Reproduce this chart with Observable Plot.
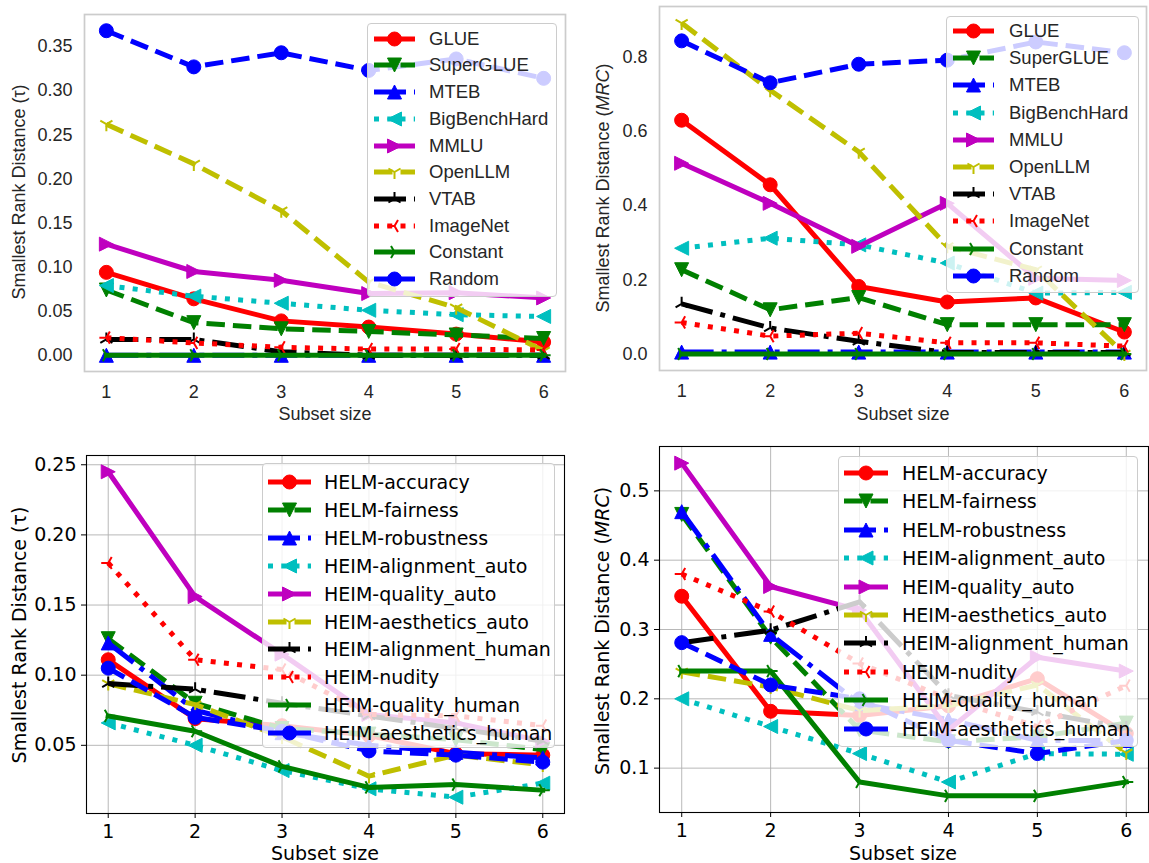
<!DOCTYPE html>
<html><head><meta charset="utf-8">
<script src="https://cdn.jsdelivr.net/npm/d3@7"></script>
<script src="https://cdn.jsdelivr.net/npm/@observablehq/plot@0.6"></script>
<style>
body{margin:0;background:#fff;}
#root{position:relative;width:1149px;height:863px;overflow:hidden;background:#fff;}
.panel{position:absolute;}
.panel svg{overflow:visible;}
.lab{position:absolute;white-space:nowrap;line-height:1;}
.xlab{transform:translate(-50%,-50%);}
.ylab{transform:translate(-50%,-50%) rotate(-90deg);}
.legend{position:absolute;background:rgba(255,255,255,0.8);box-sizing:border-box;border:1px solid #cccccc;border-radius:4px;}
.legend .txt{position:absolute;white-space:nowrap;line-height:1;transform:translateY(-50%);}
.legend svg{position:absolute;overflow:visible;}
</style></head><body><div id="root"></div>
<script>
// ---------- data ----------
const subsetSizes = [1, 2, 3, 4, 5, 6];

const topSeries = ["GLUE", "SuperGLUE", "MTEB", "BigBenchHard", "MMLU", "OpenLLM", "VTAB", "ImageNet", "Constant", "Random"];
const tauTop = [
  [0.094, 0.064, 0.039, 0.032, 0.024, 0.015],
  [0.074, 0.037, 0.030, 0.027, 0.023, 0.019],
  [0, 0, 0, 0, 0, 0],
  [0.079, 0.067, 0.059, 0.051, 0.046, 0.044],
  [0.126, 0.095, 0.085, 0.070, 0.071, 0.065],
  [0.262, 0.217, 0.164, 0.083, 0.054, 0.005],
  [0.018, 0.018, 0.004, 0, 0, 0],
  [0.020, 0.014, 0.009, 0.007, 0.007, 0.006],
  [0, 0, 0, 0, 0, 0],
  [0.368, 0.327, 0.343, 0.323, 0.336, 0.314]
];
const mrcTop = [
  [0.630, 0.456, 0.182, 0.140, 0.151, 0.059],
  [0.227, 0.119, 0.152, 0.079, 0.079, 0.079],
  [0.005, 0.005, 0.005, 0.005, 0.005, 0.005],
  [0.285, 0.312, 0.294, 0.245, 0.164, 0.166],
  [0.514, 0.406, 0.290, 0.406, 0.204, 0.198],
  [0.892, 0.711, 0.545, 0.290, 0.227, 0.000],
  [0.135, 0.070, 0.034, 0.004, 0.004, 0.004],
  [0.085, 0.048, 0.056, 0.030, 0.030, 0.021],
  [0, 0, 0, 0, 0, 0],
  [0.844, 0.731, 0.781, 0.792, 0.841, 0.812]
];

const bottomSeries = ["HELM-accuracy", "HELM-fairness", "HELM-robustness", "HEIM-alignment_auto", "HEIM-quality_auto",
  "HEIM-aesthetics_auto", "HEIM-alignment_human", "HEIM-nudity", "HEIM-quality_human", "HEIM-aesthetics_human"];
const tauBottom = [
  [0.111, 0.069, 0.064, 0.057, 0.044, 0.043],
  [0.126, 0.080, 0.062, 0.058, 0.054, 0.047],
  [0.123, 0.075, 0.059, 0.050, 0.045, 0.041],
  [0.066, 0.050, 0.032, 0.019, 0.013, 0.023],
  [0.245, 0.156, 0.115, 0.072, 0.066, 0.053],
  [0.094, 0.079, 0.056, 0.028, 0.043, 0.036],
  [0.094, 0.090, 0.080, 0.071, 0.062, 0.053],
  [0.180, 0.111, 0.104, 0.072, 0.071, 0.064],
  [0.071, 0.060, 0.035, 0.020, 0.022, 0.018],
  [0.105, 0.070, 0.060, 0.046, 0.043, 0.038]
];
const mrcBottom = [
  [0.348, 0.182, 0.176, 0.190, 0.229, 0.150],
  [0.466, 0.289, 0.155, 0.138, 0.145, 0.165],
  [0.470, 0.293, 0.193, 0.170, 0.140, 0.140],
  [0.200, 0.160, 0.121, 0.080, 0.121, 0.120],
  [0.540, 0.362, 0.328, 0.155, 0.260, 0.240],
  [0.239, 0.217, 0.183, 0.190, 0.220, 0.122],
  [0.281, 0.299, 0.340, 0.205, 0.181, 0.158],
  [0.380, 0.326, 0.251, 0.200, 0.160, 0.219],
  [0.240, 0.240, 0.080, 0.060, 0.060, 0.080],
  [0.281, 0.220, 0.200, 0.140, 0.121, 0.140]
];

const tauTopTicks = [0, 0.05, 0.10, 0.15, 0.20, 0.25, 0.30, 0.35];
const mrcTopTicks = [0, 0.2, 0.4, 0.6, 0.8];
const tauBottomTicks = [0.05, 0.10, 0.15, 0.20, 0.25];
const mrcBottomTicks = [0.1, 0.2, 0.3, 0.4, 0.5];

// ---------- styles ----------
const seriesColors = ["#ff0000", "#008000", "#0000ff", "#00bfbf", "#bf00bf", "#bfbf00", "#000000", "#ff0000", "#008000", "#0000ff"];
const dashKinds = ["solid", "dashed", "dashdot", "dotted", "solid", "dashed", "dashdot", "dotted", "solid", "dashed"];
const markerKinds = ["o", "v", "^", "<", ">", "1", "2", "3", "4", "o"];

const mk = fn => ({draw(ctx, size) { const r = Math.sqrt(size / Math.PI); fn(ctx, r); }});
const symbols = {
  "o": mk((c, r) => { c.moveTo(r, 0); c.arc(0, 0, r, 0, 2 * Math.PI); c.closePath(); }),
  "^": mk((c, r) => { c.moveTo(0, -r); c.lineTo(-r, r); c.lineTo(r, r); c.closePath(); }),
  "v": mk((c, r) => { c.moveTo(0, r); c.lineTo(-r, -r); c.lineTo(r, -r); c.closePath(); }),
  "<": mk((c, r) => { c.moveTo(-r, 0); c.lineTo(r, -r); c.lineTo(r, r); c.closePath(); }),
  ">": mk((c, r) => { c.moveTo(r, 0); c.lineTo(-r, -r); c.lineTo(-r, r); c.closePath(); }),
  "1": mk((c, r) => { c.moveTo(0, 0); c.lineTo(0, r); c.moveTo(0, 0); c.lineTo(-0.866 * r, -0.5 * r); c.moveTo(0, 0); c.lineTo(0.866 * r, -0.5 * r); }),
  "2": mk((c, r) => { c.moveTo(0, 0); c.lineTo(0, -r); c.moveTo(0, 0); c.lineTo(-0.866 * r, 0.5 * r); c.moveTo(0, 0); c.lineTo(0.866 * r, 0.5 * r); }),
  "3": mk((c, r) => { c.moveTo(0, 0); c.lineTo(-r, 0); c.moveTo(0, 0); c.lineTo(0.5 * r, -0.866 * r); c.moveTo(0, 0); c.lineTo(0.5 * r, 0.866 * r); }),
  "4": mk((c, r) => { c.moveTo(0, 0); c.lineTo(r, 0); c.moveTo(0, 0); c.lineTo(-0.5 * r, -0.866 * r); c.moveTo(0, 0); c.lineTo(-0.5 * r, 0.866 * r); })
};
const isOpen = m => "1234".includes(m);
function dashArray(kind, lw) {
  if (kind === "dashed") return [3.7 * lw, 1.6 * lw].join(",");
  if (kind === "dashdot") return [6.4 * lw, 1.6 * lw, 1 * lw, 1.6 * lw].join(",");
  if (kind === "dotted") return [1 * lw, 1.65 * lw].join(",");
  return null;
}
const LW = 5, MR = 7;

const root = document.getElementById("root");

function makePanel(cfg) {
  const div = document.createElement("div");
  div.className = "panel";
  div.style.left = cfg.left + "px"; div.style.top = cfg.top + "px";
  div.style.width = cfg.width + "px"; div.style.height = cfg.height + "px";
  root.appendChild(div);

  const all = cfg.values.flat();
  const [lo, hi] = d3.extent(all);
  const pad = (hi - lo) * 0.05;

  const marks = [];
  if (cfg.grid) {
    marks.push(Plot.gridX({ticks: subsetSizes, stroke: "#b0b0b0", strokeOpacity: 1, strokeWidth: 0.9}));
    marks.push(Plot.gridY({ticks: cfg.yTicks, stroke: "#b0b0b0", strokeOpacity: 1, strokeWidth: 0.9}));
  }
  cfg.names.forEach((name, i) => {
    const rows = subsetSizes.map((x, j) => ({series: name, x, y: cfg.values[i][j]}));
    const dash = dashArray(dashKinds[i], LW);
    marks.push(Plot.line(rows, {x: "x", y: "y", stroke: seriesColors[i], strokeWidth: LW,
      strokeDasharray: dash, strokeLinecap: dash ? "butt" : "square", strokeLinejoin: "round"}));
    const m = markerKinds[i];
    marks.push(Plot.dot(rows, {x: "x", y: "y", symbol: symbols[m], r: MR,
      fill: isOpen(m) ? "none" : seriesColors[i], stroke: seriesColors[i], strokeWidth: isOpen(m) ? 2 : 1}));
  });
  marks.push(Plot.frame({stroke: cfg.frameColor, strokeWidth: cfg.frameWidth}));
  marks.push(Plot.axisX({ticks: subsetSizes, tickFormat: d => String(d), tickSize: cfg.tickSize,
    tickPadding: cfg.xPad, label: null, stroke: cfg.textColor}));
  marks.push(Plot.axisY({ticks: cfg.yTicks, tickFormat: cfg.yFmt, tickSize: cfg.tickSize,
    tickPadding: cfg.yPad, label: null, stroke: cfg.textColor}));

  const chart = Plot.plot({
    width: cfg.width, height: cfg.height,
    marginLeft: cfg.m[0], marginRight: cfg.m[1], marginTop: cfg.m[2], marginBottom: cfg.m[3],
    x: {type: "linear", domain: [0.75, 6.25]},
    y: {type: "linear", domain: [lo - pad, hi + pad]},
    style: {fontFamily: cfg.font, fontSize: cfg.fontSize + "px", color: cfg.textColor, background: "transparent", overflow: "visible"},
    marks
  });
  div.appendChild(chart);

  // axis labels
  const yl = document.createElement("div");
  yl.className = "lab ylab";
  yl.style.left = cfg.ylab[0] + "px"; yl.style.top = cfg.ylab[1] + "px";
  yl.style.font = cfg.fontSize + "px " + cfg.font; yl.style.color = cfg.textColor;
  yl.innerHTML = cfg.ylabHTML;
  div.appendChild(yl);
  const xl = document.createElement("div");
  xl.className = "lab xlab";
  xl.style.left = cfg.xlab[0] + "px"; xl.style.top = cfg.xlab[1] + "px";
  xl.style.font = cfg.fontSize + "px " + cfg.font; xl.style.color = cfg.textColor;
  xl.textContent = "Subset size";
  div.appendChild(xl);

  // legend
  const L = cfg.legend;
  const lg = document.createElement("div");
  lg.className = "legend";
  lg.style.left = L.box[0] + "px"; lg.style.top = L.box[1] + "px";
  lg.style.width = (L.box[2] - L.box[0]) + "px"; lg.style.height = (L.box[3] - L.box[1]) + "px";
  div.appendChild(lg);
  cfg.names.forEach((name, i) => {
    const cy = L.row0 + i * L.step - L.box[1];
    const sx = L.sw[0] - L.box[0], slen = L.sw[1] - L.sw[0];
    const svg = d3.create("svg").attr("width", slen).attr("height", 24)
      .style("left", sx + "px").style("top", (cy - 12) + "px");
    const dash = dashArray(dashKinds[i], LW);
    svg.append("line").attr("x1", 0).attr("x2", slen).attr("y1", 12).attr("y2", 12)
      .attr("stroke", seriesColors[i]).attr("stroke-width", LW)
      .attr("stroke-dasharray", dash).attr("stroke-linecap", "butt");
    const m = markerKinds[i];
    svg.append("path").attr("d", d3.symbol(symbols[m], MR * MR * Math.PI)())
      .attr("transform", `translate(${slen / 2},12)`)
      .attr("fill", isOpen(m) ? "none" : seriesColors[i]).attr("stroke", seriesColors[i])
      .attr("stroke-width", isOpen(m) ? 2 : 1);
    lg.appendChild(svg.node());
    const t = document.createElement("div");
    t.className = "txt";
    t.style.left = (L.tx - L.box[0]) + "px"; t.style.top = cy + "px";
    t.style.font = L.fontSize + "px " + cfg.font; t.style.color = cfg.textColor;
    t.textContent = name;
    lg.appendChild(t);
  });
}

const topCommon = {font: "'Liberation Sans', Arial, sans-serif", fontSize: 18, textColor: "#262626",
  frameColor: "#cccccc", frameWidth: 1.7, grid: false, tickSize: 0};
const botCommon = {font: "'DejaVu Sans', sans-serif", fontSize: 19, textColor: "#000000",
  frameColor: "#000000", frameWidth: 1.1, grid: true, tickSize: 5};

makePanel({...topCommon, left: 0, top: 0, width: 575, height: 430, m: [84, 10, 14, 59],
  names: topSeries, values: tauTop, yTicks: tauTopTicks, yFmt: d3.format(".2f"), xPad: 14, yPad: 12,
  ylab: [19, 192], xlab: [325, 414], ylabHTML: "Smallest Rank Distance (τ)",
  legend: {box: [367, 23, 557, 297], row0: 37.7, step: 26.7, sw: [373, 414], tx: 428, fontSize: 18.5}});

makePanel({...topCommon, left: 575, top: 0, width: 574, height: 430, m: [84, 3, 6, 60],
  names: topSeries, values: mrcTop, yTicks: mrcTopTicks, yFmt: d3.format(".1f"), xPad: 14, yPad: 12,
  ylab: [28, 188], xlab: [328, 414], ylabHTML: "Smallest Rank Distance (<i>MRC</i>)",
  legend: {box: [371, 16, 564, 293], row0: 30, step: 27.2, sw: [377, 418], tx: 433, fontSize: 18.5}});

makePanel({...botCommon, left: 0, top: 430, width: 575, height: 433, m: [86, 11, 25, 50],
  names: bottomSeries, values: tauBottom, yTicks: tauBottomTicks, yFmt: d3.format(".2f"), xPad: 6, yPad: 5,
  ylab: [19, 205], xlab: [325, 423], ylabHTML: "Smallest Rank Distance (τ)",
  legend: {box: [262, 33, 555, 318], row0: 51, step: 27.9, sw: [267, 310], tx: 323, fontSize: 19}});

makePanel({...botCommon, left: 575, top: 430, width: 574, height: 433, m: [84, 1, 16, 51],
  names: bottomSeries, values: mrcBottom, yTicks: mrcBottomTicks, yFmt: d3.format(".1f"), xPad: 6, yPad: 5,
  ylab: [27, 201], xlab: [328, 423], ylabHTML: "Smallest Rank Distance (<i>MRC</i>)",
  legend: {box: [263, 26, 563, 317], row0: 42, step: 28.4, sw: [268, 312], tx: 326, fontSize: 19}});
</script>
</body></html>
